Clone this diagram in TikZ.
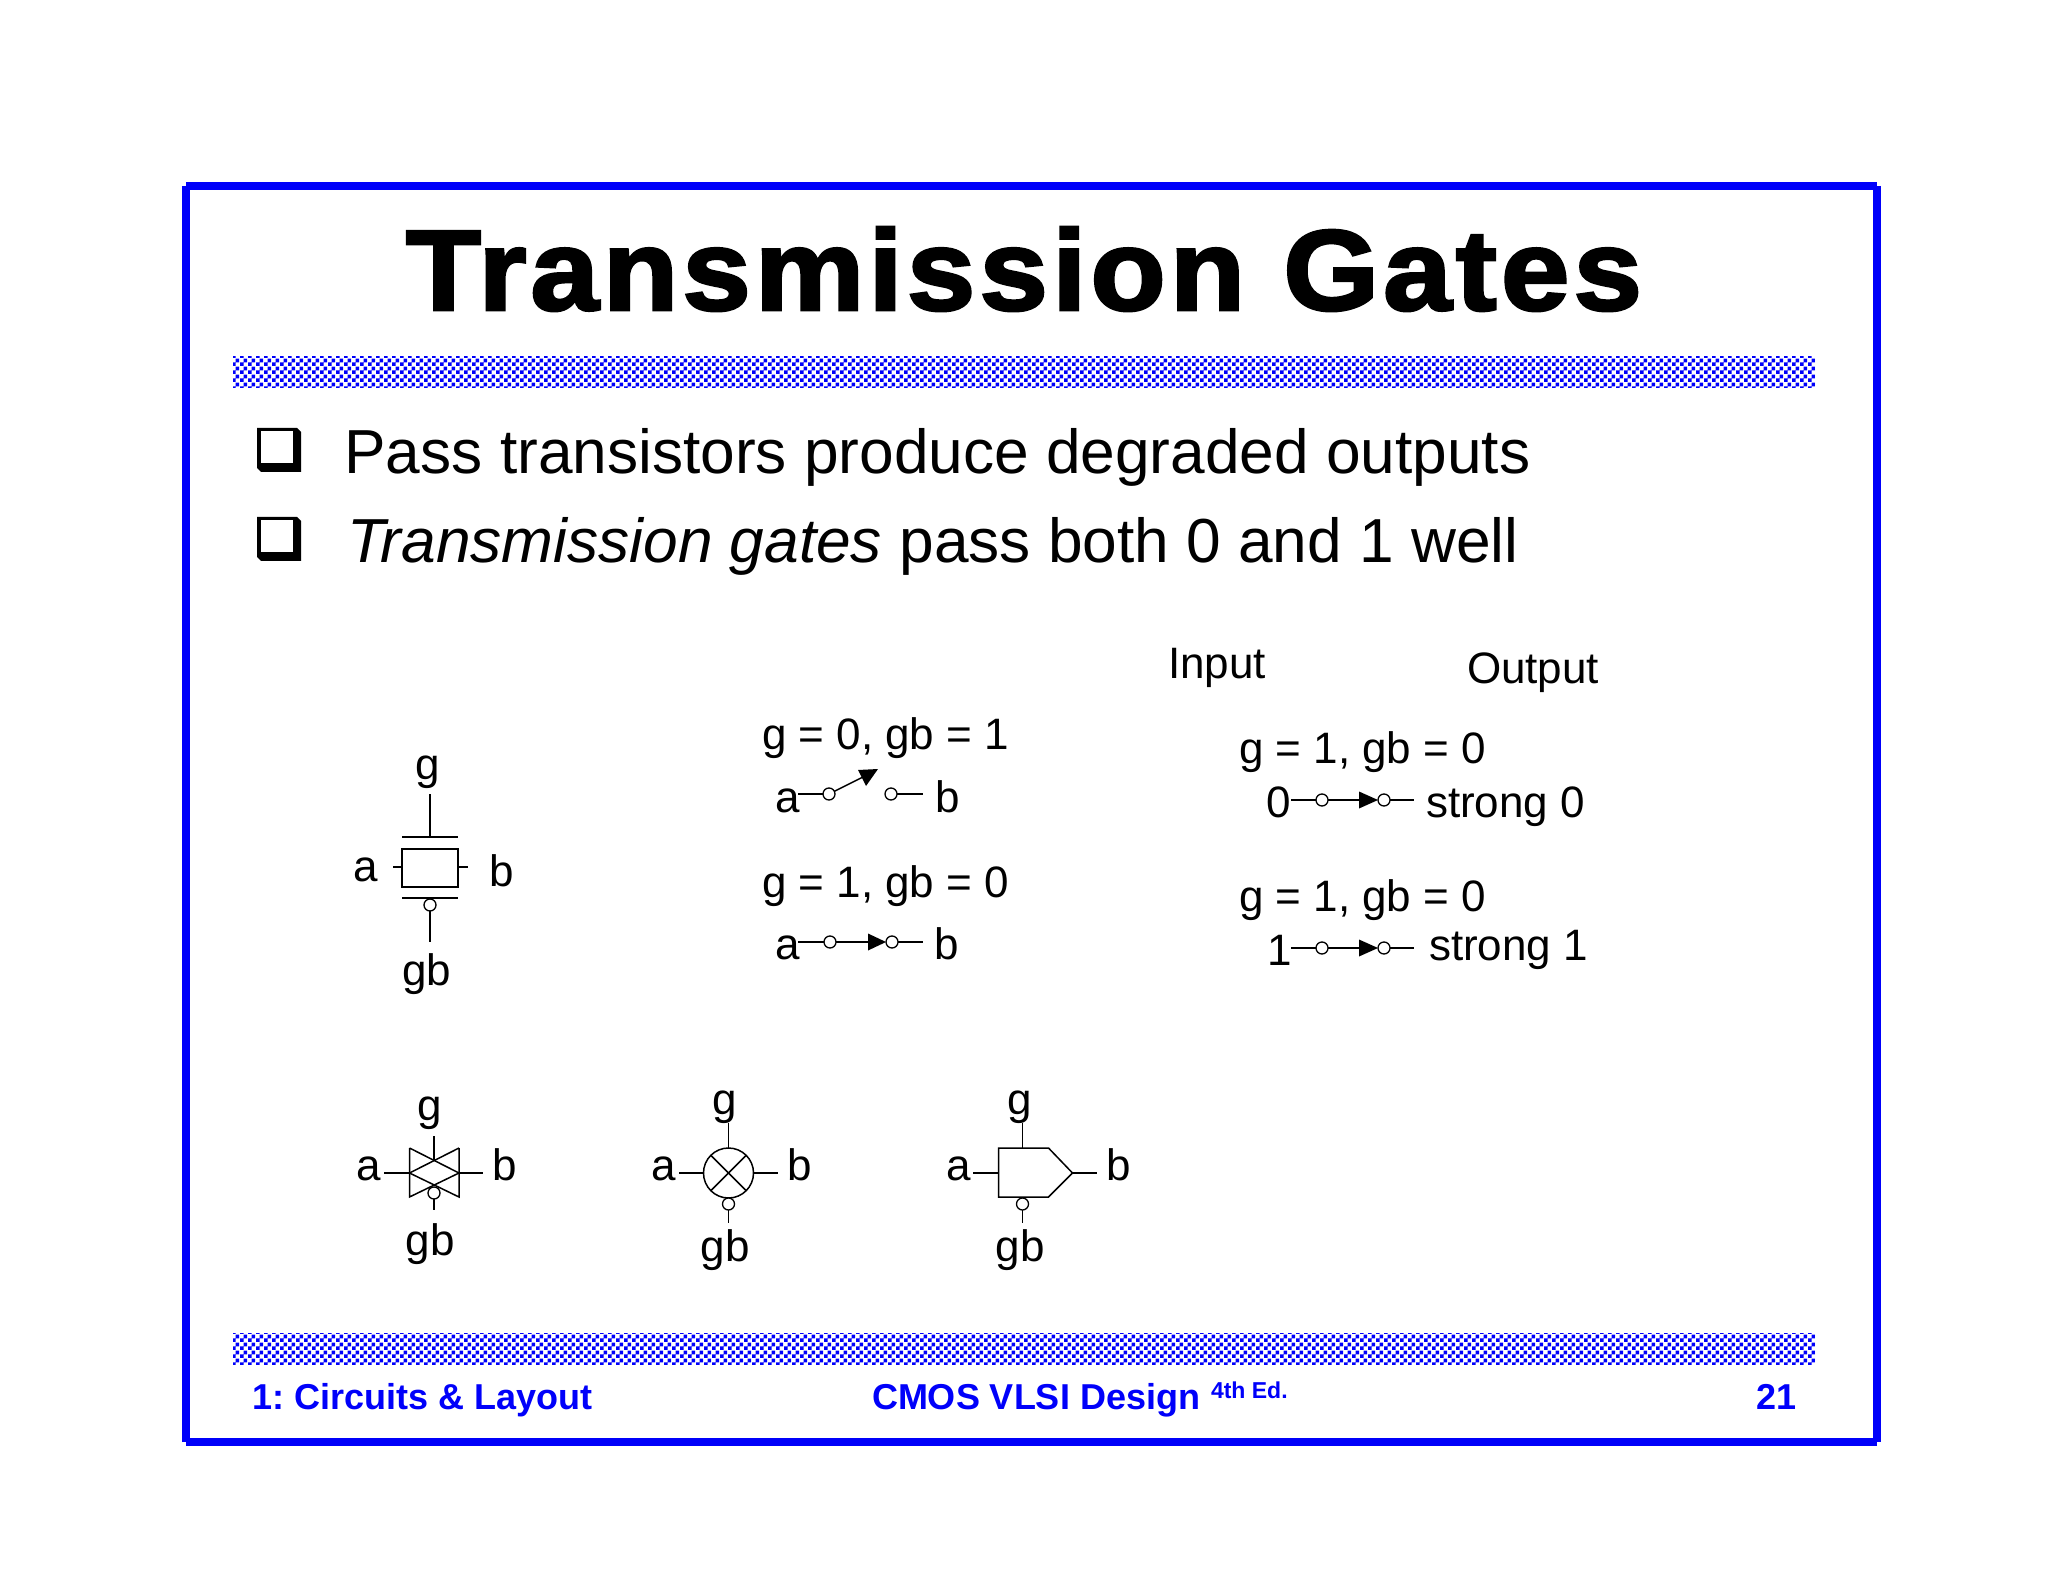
\documentclass[tikz,border=0pt]{standalone}
\usepackage{fontspec}
\setmainfont{Liberation Sans}
\newfontfamily\titlefont[FakeBold=2.4,LetterSpace=3.5]{Liberation Sans}
\usetikzlibrary{patterns}
\pgfdeclarepatternformonly{mychecker}{\pgfpointorigin}{\pgfqpoint{4pt}{4pt}}{\pgfqpoint{4pt}{4pt}}{%
  \pgfpathrectangle{\pgfqpoint{0pt}{0pt}}{\pgfqpoint{2pt}{2pt}}%
  \pgfpathrectangle{\pgfqpoint{2pt}{2pt}}{\pgfqpoint{2pt}{2pt}}%
  \pgfusepath{fill}}
\definecolor{slideblue}{RGB}{0,0,250}
\tikzset{
  x=0.5pt,y=-0.5pt,
  txt/.style={inner sep=0pt,outer sep=0pt,anchor=base west},
  ctxt/.style={inner sep=0pt,outer sep=0pt,anchor=base},
  lab/.style={txt,font=\fontsize{22}{26}\selectfont},
  clab/.style={ctxt,font=\fontsize{22}{26}\selectfont},
  body/.style={txt,font=\fontsize{31.1}{37}\selectfont},
  foot/.style={txt,text=slideblue,font=\fontsize{18}{22}\selectfont\bfseries},
  wire/.style={line width=0.75pt,black},
  bubble/.style={circle,draw=black,fill=white,line width=0.65pt,minimum size=6pt,inner sep=0pt,outer sep=0pt},
  frame/.style={line width=4pt,slideblue},
  checkbar/.style={pattern=mychecker,pattern color=slideblue},
  headfill/.style={fill=black,draw=none},
  jn/.style={inner sep=0pt,outer sep=0pt,minimum size=0pt},
}
\newcommand{\bulletbox}[2]{%
  \fill[black] (#1,#2) -- (#1+40,#2) -- (#1+44,#2+4) -- (#1+44,#2+44) -- (#1+4,#2+44) -- (#1,#2+40) -- cycle;
  \fill[white] (#1+3.5,#2+3.5) rectangle (#1+36,#2+35.5);
}
\begin{document}
\begin{tikzpicture}
\useasboundingbox (0,0) rectangle (2048,1582);
\fill[white] (0,0) rectangle (2048,1582);
% frame
\draw[frame] (186,186) -- (1877,186);
\draw[frame] (1877,186) -- (1877,1442);
\draw[frame] (1877,1442) -- (186,1442);
\draw[frame] (186,1442) -- (186,186);
% title
\node[txt] (title) at (406,310) {\resizebox{618pt}{41.5pt}{\titlefont\fontsize{57}{68}\selectfont\bfseries Transmission Gates}};
% bars
\fill[checkbar] (233,357) rectangle (1815,388);
\fill[checkbar] (233,1333) rectangle (1815,1364);
% bullets
\bulletbox{257}{428}
\bulletbox{257}{517}
\node[body] (b1) at (344.5,474) {Pass transistors produce degraded outputs};
\node[body] (b2) at (347.5,562) {\textit{Transmission gates} pass both 0 and 1 well};
% footer
\node[foot] (f1) at (252,1409) {1:\hspace{-1.3pt} Circuits \& Layout};
\node[foot] (f2) at (872,1409) {CMOS VLSI Design};
\node[foot,font=\fontsize{11.5}{14}\selectfont\bfseries] (f3) at (1211,1398) {4th Ed.};
\node[foot] (f4) at (1756,1409) {21};
% Input Output
\node[lab] (inp) at (1168,678) {Input};
\node[lab] (outp) at (1467,683) {Output};

% TG 1
\node[clab] (g1) at (428,779) {g};
\node[lab] (a1) at (353,881) {a};
\node[lab] (b1l) at (489,886) {b};
\node[clab] (gb1) at (427,985) {gb};
\node[jn] (t1a) at (430,794) {};
\node[jn] (t1b) at (430,837) {};
\draw[wire] (t1a) -- (t1b);
\draw[wire] (402,837) -- (458,837);
\node[draw=black,line width=0.75pt,minimum width=28pt,minimum height=19pt,inner sep=0pt,outer sep=0pt] (t1r) at (430,868) {};
\node[jn] (t1s) at (393,867) {}; \node[jn] (t1e) at (468,867) {};
\draw[wire] (t1s) -- (t1s-|t1r.west);
\draw[wire] (t1e-|t1r.east) -- (t1e);
\draw[wire] (402,898) -- (458,898);
\node[bubble] (t1o) at (430,905) {};
\node[jn] (t1c) at (430,942) {};
\draw[wire] (t1o) -- (t1c);

% switch off
\node[lab] (sl1) at (762,749) {g = 0, gb = 1};
\node[lab] (a2) at (775,812) {a};
\node[lab] (b2l) at (935,812) {b};
\node[jn] (s1a) at (798,794) {};
\node[bubble] (s1p) at (829,794) {};
\node[bubble] (s1q) at (891,794) {};
\node[jn] (s1b) at (923,794) {};
\draw[wire] (s1a) -- (s1p);
\draw[wire] (s1q) -- (s1b);
\node[jn] (s1h) at (866,775.5) {};
\draw[wire] (s1p) -- (s1h);
\fill[headfill] (858,770) -- (878,769) -- (866,786) -- cycle;
% switch on
\node[lab] (sl2) at (762,897) {g = 1, gb = 0};
\node[lab] (a3) at (775,959) {a};
\node[lab] (b3l) at (934,959) {b};
\node[jn] (s2a) at (798,942) {};
\node[bubble] (s2p) at (830,942) {};
\node[bubble] (s2q) at (892,942) {};
\node[jn] (s2b) at (923,942) {};
\node[jn] (s2h) at (868,942) {};
\draw[wire] (s2a) -- (s2p);
\draw[wire] (s2q) -- (s2b);
\draw[wire] (s2p) -- (s2h);
\fill[headfill] (868,933.5) -- (886,942) -- (868,950.5) -- cycle;

% strong 0
\node[lab] (sl3) at (1239,763) {g = 1, gb = 0};
\node[lab] (n0) at (1266,817) {0};
\node[lab] (st0) at (1426,817) {strong 0};
\node[jn] (s3a) at (1291,800) {};
\node[bubble] (s3p) at (1322,800) {};
\node[bubble] (s3q) at (1384,800) {};
\node[jn] (s3b) at (1414,800) {};
\node[jn] (s3h) at (1359,800) {};
\draw[wire] (s3a) -- (s3p);
\draw[wire] (s3q) -- (s3b);
\draw[wire] (s3p) -- (s3h);
\fill[headfill] (1359,791.5) -- (1378,800) -- (1359,808.5) -- cycle;
% strong 1
\node[lab] (sl4) at (1239,911) {g = 1, gb = 0};
\node[lab] (n1) at (1267,965) {1};
\node[lab] (st1) at (1429,960) {strong 1};
\node[jn] (s4a) at (1291,948) {};
\node[bubble] (s4p) at (1322,948) {};
\node[bubble] (s4q) at (1384,948) {};
\node[jn] (s4b) at (1414,948) {};
\node[jn] (s4h) at (1359,948) {};
\draw[wire] (s4a) -- (s4p);
\draw[wire] (s4q) -- (s4b);
\draw[wire] (s4p) -- (s4h);
\fill[headfill] (1359,939.5) -- (1378,948) -- (1359,956.5) -- cycle;

% bottom symbol 1
\node[clab] (g5) at (430,1120) {g};
\node[clab] (gb5) at (430,1255) {gb};
\node[lab] (a5) at (356,1180.5) {a};
\node[lab] (b5) at (492,1180.5) {b};
\draw[wire] (409.5,1148) -- (409.5,1197) -- (459,1173) -- (409.5,1148);
\draw[wire] (459,1148) -- (459,1197) -- (409.5,1173) -- (459,1148);
\node[jn] (t5a) at (434,1136) {};
\node[jn] (t5c) at (434,1161) {};
\draw[wire] (t5a) -- (t5c);
\node[jn] (t5s) at (384,1173) {}; \node[jn] (t5l) at (409.5,1173) {};
\node[jn] (t5t) at (459,1173) {}; \node[jn] (t5e) at (483,1173) {};
\draw[wire] (t5s) -- (t5l);
\draw[wire] (t5t) -- (t5e);
\node[bubble] (t5o) at (434,1193) {};
\node[jn] (t5d) at (434,1210) {};
\draw[wire] (t5o) -- (t5d);

% bottom symbol 2
\node[clab] (g6) at (725,1114) {g};
\node[clab] (gb6) at (725,1261) {gb};
\node[lab] (a6) at (651,1180.5) {a};
\node[lab] (b6) at (787,1180.5) {b};
\node[circle,draw=black,line width=0.75pt,minimum size=25pt,inner sep=0pt,outer sep=0pt] (x6) at (728.5,1173) {};
\draw[wire] (x6.45) -- (x6.225);
\draw[wire] (x6.135) -- (x6.315);
\node[jn] (t6a) at (728.5,1123) {};
\draw[wire] (t6a) -- (x6.north);
\node[jn] (t6s) at (679,1173) {}; \node[jn] (t6e) at (778,1173) {};
\draw[wire] (t6s) -- (x6.west);
\draw[wire] (x6.east) -- (t6e);
\node[bubble] (t6o) at (728.5,1204) {};
\node[jn] (t6d) at (728.5,1223) {};
\draw[wire] (t6o) -- (t6d);

% bottom symbol 3
\node[clab] (g7) at (1020,1114) {g};
\node[clab] (gb7) at (1020,1261) {gb};
\node[lab] (a7) at (946,1180.5) {a};
\node[lab] (b7) at (1106,1180.5) {b};
\draw[wire] (998.5,1148) -- (1048.5,1148) -- (1072.5,1173) -- (1048.5,1197) -- (998.5,1197) -- cycle;
\node[jn] (t7a) at (1022.5,1123) {};
\node[jn] (t7c) at (1022.5,1148) {};
\draw[wire] (t7a) -- (t7c);
\node[jn] (t7s) at (973,1173) {}; \node[jn] (t7l) at (998.5,1173) {};
\node[jn] (t7r) at (1072.5,1173) {}; \node[jn] (t7e) at (1097,1173) {};
\draw[wire] (t7s) -- (t7l);
\draw[wire] (t7r) -- (t7e);
\node[bubble] (t7o) at (1022.5,1204) {};
\node[jn] (t7d) at (1022.5,1223) {};
\draw[wire] (t7o) -- (t7d);
\end{tikzpicture}
\end{document}
